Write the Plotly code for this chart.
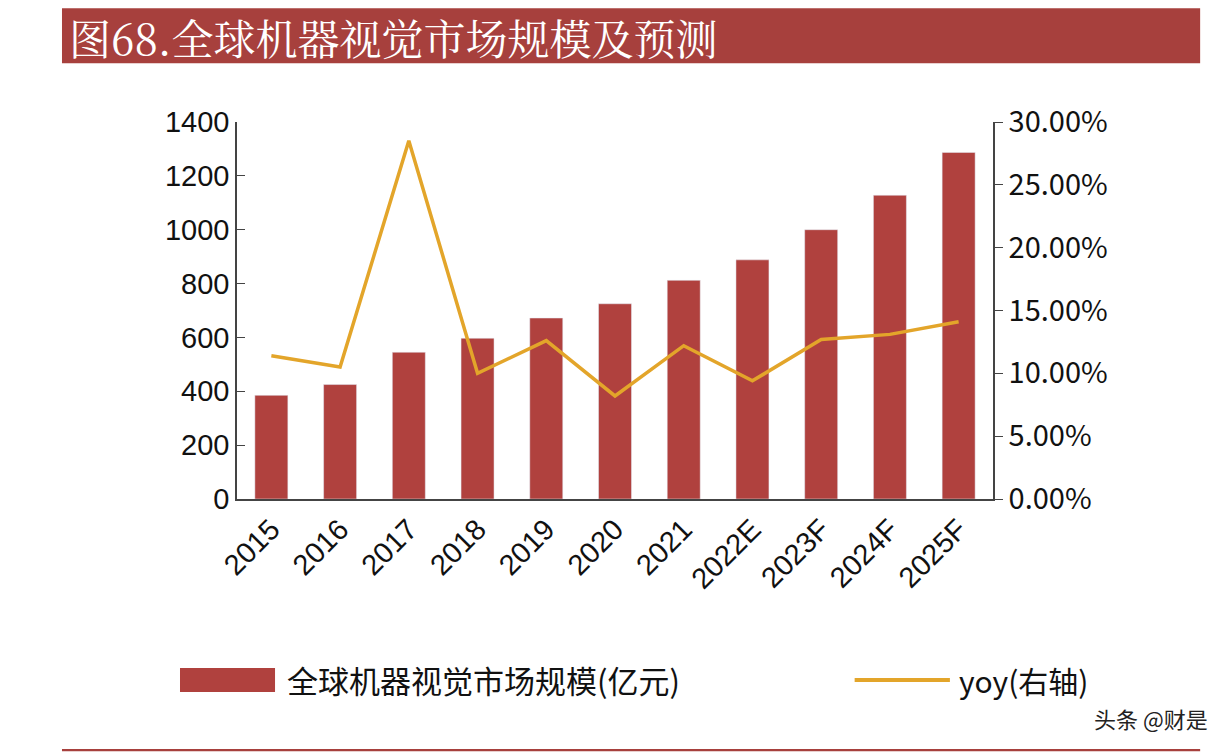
import plotly.graph_objects as go

years = ["2015","2016","2017","2018","2019","2020","2021","2022E","2023F","2024F","2025F"]
market = [385, 425, 545, 597, 672, 725, 812, 888, 1000, 1128, 1287]
yoy = [11.4, 10.5, 28.5, 10.0, 12.6, 8.2, 12.2, 9.4, 12.7, 13.1, 14.1]
yoy_ticks = [0, 5, 10, 15, 20, 25, 30]

red = "#b0413e"
gold = "#e3a52a"
font = "Noto Sans CJK SC"

fig = go.Figure()
fig.add_trace(go.Bar(x=years, y=market, name="全球机器视觉市场规模(亿元)", marker_color=red, width=0.48))
fig.add_trace(go.Scatter(x=years, y=yoy, name="yoy(右轴)", yaxis="y2", mode="lines",
                         line=dict(color=gold, width=3.5)))

fig.update_layout(
    width=1232, height=756, paper_bgcolor="white", plot_bgcolor="white",
    margin=dict(l=229, r=247, t=114, b=265),
    font=dict(family=font, size=26, color="#111"),
    showlegend=False,
    xaxis=dict(showline=True, linecolor="#444", linewidth=1.5, tickangle=-45,
               tickfont=dict(family="Liberation Sans, Arial", size=29)),
    yaxis=dict(range=[0, 1400], dtick=200, showgrid=False, showline=True, linecolor="#444",
               linewidth=1.5, ticks="inside", ticklen=8, tickfont=dict(family="Liberation Sans, Arial", size=29)),
    yaxis2=dict(range=[0, 30], overlaying="y", side="right", tickvals=yoy_ticks,
                ticktext=[f"{v:.2f}%" for v in yoy_ticks], showgrid=False, showline=True,
                linecolor="#444", linewidth=1.5, ticks="outside", ticklen=8,
                tickfont=dict(family=font, size=29)),
    shapes=[
        dict(type="rect", xref="paper", yref="paper", x0=-0.2315, x1=1.274, y0=1.156, y1=1.302,
             fillcolor="#a7403d", line_width=0, layer="below"),
        dict(type="rect", xref="paper", yref="paper", x0=-0.2315, x1=1.274, y0=-0.669, y1=-0.663,
             fillcolor="#a7403d", line_width=0),
        dict(type="rect", xref="paper", yref="paper", x0=-0.0754, x1=0.0503, y0=-0.512, y1=-0.448,
             fillcolor=red, line_width=0),
        dict(type="line", xref="paper", yref="paper", x0=0.817, x1=0.943, y0=-0.48, y1=-0.48,
             line=dict(color=gold, width=4)),
    ],
    annotations=[
        dict(text="图68.全球机器视觉市场规模及预测", xref="paper", yref="paper", x=-0.225, y=1.226,
             xanchor="left", yanchor="middle", showarrow=False,
             font=dict(family="Noto Serif CJK SC, Noto Sans CJK SC", size=42, color="white")),
        dict(text="全球机器视觉市场规模(亿元)", xref="paper", yref="paper", x=0.063, y=-0.48,
             xanchor="left", yanchor="middle", showarrow=False, font=dict(size=31)),
        dict(text="yoy(右轴)", xref="paper", yref="paper", x=0.953, y=-0.48,
             xanchor="left", yanchor="middle", showarrow=False, font=dict(size=30)),
        dict(text="头条 @财是", xref="paper", yref="paper", x=1.287, y=-0.58, xanchor="right",
             yanchor="middle", showarrow=False, font=dict(size=22, color="#222")),
    ],
)
fig.write_html("out.html")
